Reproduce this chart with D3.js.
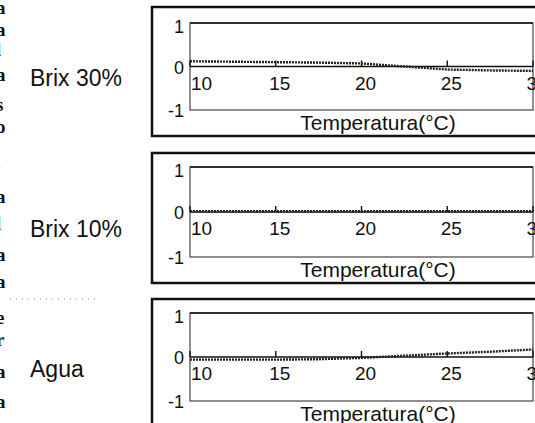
<!DOCTYPE html>
<html lang="es">
<head>
<meta charset="UTF-8">
<title>Brix / Agua vs Temperatura</title>
<script src="https://d3js.org/d3.v7.min.js"></script>
<style>
  body { margin: 0; background: #fff; }
  svg { display: block; }
  text { font-family: "Liberation Sans", Arial, sans-serif; fill: #111; }
  .frag { font-family: "Liberation Serif", "DejaVu Serif", serif; font-size: 19px; font-weight: bold; }
</style>
</head>
<body>
<div id="chart"></div>
<script>
// ---- data ----
const temps = [10, 12.5, 15, 17.5, 20, 22.5, 25, 27.5, 30];
const brix30 = [0.12, 0.11, 0.10, 0.09, 0.07, 0.00, -0.07, -0.09, -0.10];
const brix10 = [0.02, 0.02, 0.02, 0.02, 0.02, 0.02, 0.02, 0.02, 0.02];
const agua   = [-0.06, -0.06, -0.06, -0.05, -0.02, 0.03, 0.08, 0.12, 0.17];
const panelLabels = ["Brix 30%", "Brix 10%", "Agua"];
const xTicks = [10, 15, 20, 25, 30];
const yTicks = [1, 0, -1];
const xTitle = "Temperatura(\u00B0C)";
// clipped letters of the neighbouring text column at the left edge
const fragLetters = ["a","a","l","a","s","o",".","a","l","a","a","e","r","a","a"];
const fragY = [8, 30, 50, 75, 105, 127, 163, 197, 224, 255, 282, 318, 340, 372, 402];

const W = 535, H = 423;
const svg = d3.select("#chart").append("svg").attr("width", W).attr("height", H);

// panel boxes: outer frame and inner axes
const panels = [
  { label: panelLabels[0], values: brix30, ot: 7,   ob: 136, it: 23,  ib: 110, ly: 86 },
  { label: panelLabels[1], values: brix10, ot: 153, ob: 283, it: 167, ib: 257, ly: 237 },
  { label: panelLabels[2], values: agua,   ot: 299, ob: 450, it: 313, ib: 401, ly: 377 }
];
const innerLeft = 190, innerRight = 533, outerLeft = 152;

const x = d3.scaleLinear().domain([10, 30]).range([innerLeft, innerRight]);

panels.forEach(p => {
  const y = d3.scaleLinear().domain([-1, 1]).range([p.ib, p.it]);
  const g = svg.append("g");

  // outer frame
  g.append("rect")
    .attr("x", outerLeft).attr("y", p.ot)
    .attr("width", W + 20 - outerLeft).attr("height", p.ob - p.ot)
    .attr("fill", "none").attr("stroke", "#111").attr("stroke-width", 2.5);

  // inner axes box
  g.append("rect")
    .attr("x", innerLeft).attr("y", p.it)
    .attr("width", innerRight - innerLeft).attr("height", p.ib - p.it)
    .attr("fill", "none").attr("stroke", "#444").attr("stroke-width", 1.2);
  g.append("line")
    .attr("x1", innerLeft).attr("x2", innerRight)
    .attr("y1", p.it).attr("y2", p.it)
    .attr("stroke", "#111").attr("stroke-width", 1.6);

  // side label
  g.append("text").attr("x", 30).attr("y", p.ly)
    .attr("font-size", 23).text(p.label);

  // y tick labels
  g.selectAll(".yt").data(yTicks).join("text")
    .attr("x", 184).attr("y", d => y(d) + (d === 1 ? 10 : 7))
    .attr("text-anchor", "end").attr("font-size", 18)
    .text(d => d);

  // x axis through zero
  const y0 = y(0);
  g.append("line")
    .attr("x1", innerLeft).attr("x2", innerRight)
    .attr("y1", y0).attr("y2", y0)
    .attr("stroke", "#111").attr("stroke-width", 1.4);
  g.selectAll(".xtk").data(xTicks).join("line")
    .attr("x1", d => x(d)).attr("x2", d => x(d))
    .attr("y1", y0).attr("y2", y0 - 6)
    .attr("stroke", "#111").attr("stroke-width", 1.4);
  g.selectAll(".xtl").data(xTicks).join("text")
    .attr("x", (d, i) => i === 0 ? x(d) + 1 : x(d) + 4)
    .attr("y", y0 + 23)
    .attr("text-anchor", (d, i) => i === 0 ? "start" : "middle")
    .attr("font-size", 19)
    .text(d => d);

  // x title
  g.append("text")
    .attr("x", 378).attr("y", p.ib + 20)
    .attr("text-anchor", "middle").attr("font-size", 21)
    .text(xTitle);

  // data line (dotted, as in the scan)
  const line = d3.line()
    .x((d, i) => x(temps[i]))
    .y(d => y(d));
  g.append("path")
    .datum(p.values)
    .attr("d", line)
    .attr("fill", "none")
    .attr("stroke", "#222")
    .attr("stroke-width", 2.4)
    .attr("stroke-dasharray", "2,1");
});

// scan leftovers: text column clipped at the left edge
svg.selectAll(".frag").data(fragLetters).join("text")
  .attr("class", "frag")
  .attr("x", -4)
  .attr("y", (d, i) => fragY[i] + 6)
  .text(d => d);

// dotted guide mark at the left
svg.append("line")
  .attr("x1", 10).attr("x2", 96).attr("y1", 299).attr("y2", 299)
  .attr("stroke", "#999").attr("stroke-width", 1)
  .attr("stroke-dasharray", "1,5");
</script>
</body>
</html>
